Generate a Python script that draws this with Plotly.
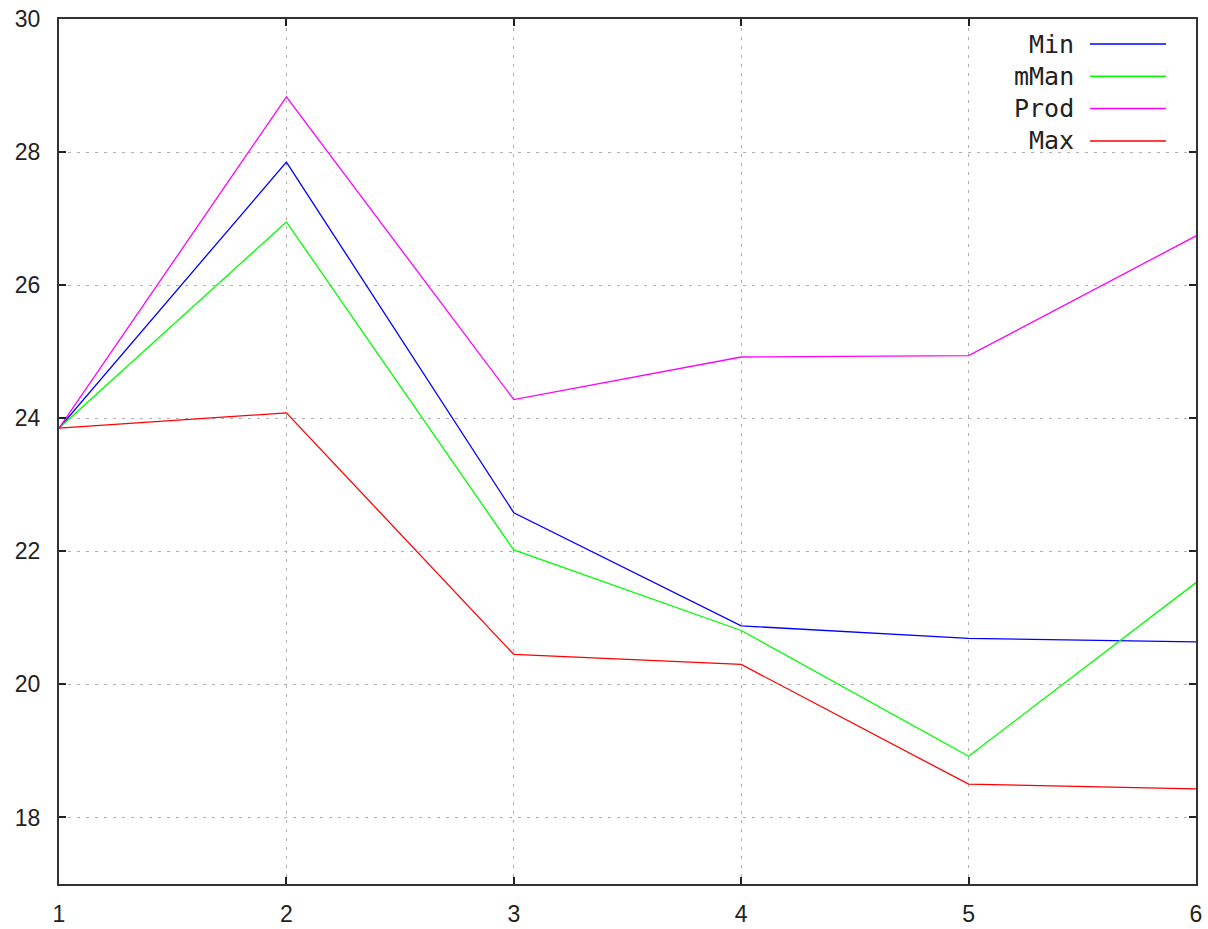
import plotly.graph_objects as go

x_vals = [1, 2, 3, 4, 5, 6]
min_vals = [23.85, 27.85, 22.58, 20.88, 20.69, 20.64]
mman_vals = [23.85, 26.95, 22.02, 20.81, 18.92, 21.53]
prod_vals = [23.85, 28.83, 24.28, 24.92, 24.94, 26.74]
max_vals = [23.85, 24.08, 20.45, 20.30, 18.50, 18.43]

series_names = ["Min", "mMan", "Prod", "Max"]
series_colors = ["#0000ff", "#00ff00", "#ff00ff", "#ff0000"]
series_data = [min_vals, mman_vals, prod_vals, max_vals]

x_ticks = [1, 2, 3, 4, 5, 6]
y_ticks = [18, 20, 22, 24, 26, 28, 30]

fig = go.Figure()
for name, color, vals in zip(series_names, series_colors, series_data):
    fig.add_trace(go.Scatter(x=x_vals, y=vals, mode="lines", name=name,
                             line=dict(color=color, width=1.3),
                             showlegend=False))

# gnuplot-style key in the upper right: label text to the left of a line sample
key_font = dict(family="DejaVu Sans Mono", size=25, color="#222222")
for i, (name, color) in enumerate(zip(series_names, series_colors)):
    yk = 1 - (25 + i * 32.3) / 865
    fig.add_annotation(xref="paper", yref="paper", x=(1076 - 59) / 1137, y=yk,
                       text=name, showarrow=False, xanchor="right",
                       yanchor="middle", font=key_font)
    fig.add_shape(type="line", xref="paper", yref="paper",
                  x0=(1090 - 59) / 1137, x1=(1166 - 59) / 1137, y0=yk, y1=yk,
                  line=dict(color=color, width=1.5))

axis_common = dict(
    showline=True, linecolor="#333333", linewidth=2, mirror="ticks",
    ticks="inside", ticklen=7, tickwidth=2, tickcolor="#222222",
    showgrid=True, gridcolor="#b0b0b0", gridwidth=1, griddash="3px,6px",
    zeroline=False, automargin=False,
    tickfont=dict(family="Liberation Sans", size=23, color="#222222"),
)

fig.update_xaxes(range=[1, 6], tickvals=x_ticks, ticklabelstandoff=8,
                 **axis_common)
fig.update_yaxes(range=[17, 30], tickvals=y_ticks, ticklabelstandoff=12,
                 **axis_common)

fig.update_layout(
    width=1208, height=929,
    margin=dict(l=59, r=12, t=19, b=45),
    plot_bgcolor="white", paper_bgcolor="white",
)

fig.write_html("out.html")
